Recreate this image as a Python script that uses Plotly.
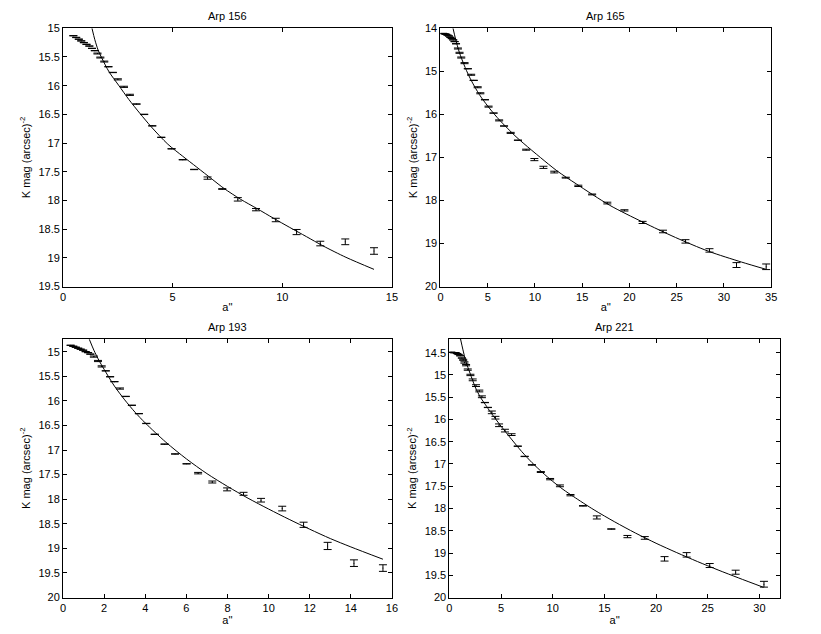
import plotly.graph_objects as go

W, H = 821, 634

titles = ["Arp 156", "Arp 165", "Arp 193", "Arp 221"]

# ---- Arp 156 ----
x1 = [0.47, 0.6, 0.72, 0.83, 0.95, 1.07, 1.2, 1.32, 1.45, 1.57, 1.7, 1.88, 2.07, 2.27,
      2.5, 2.78, 3.05, 3.35, 3.7, 4.07, 4.48, 4.95, 5.46, 5.98, 6.59, 7.26, 7.97, 8.8,
      9.7, 10.65, 11.73, 12.87, 14.18]
y1 = [15.13, 15.16, 15.19, 15.22, 15.25, 15.28, 15.31, 15.35, 15.39, 15.44, 15.51, 15.58,
      15.67, 15.77, 15.89, 16.02, 16.16, 16.32, 16.5, 16.7, 16.9, 17.1, 17.29, 17.46,
      17.61, 17.8, 17.98, 18.16, 18.34, 18.55, 18.75, 18.72, 18.88]
e1 = [0.003] * 9 + [0.008, 0.008, 0.008] + [0.003, 0.003] + [0.01, 0.01, 0.01] + [0.003] * 7 + \
     [0.02, 0.006, 0.03, 0.02, 0.03, 0.045, 0.04, 0.05, 0.057]
fx1 = [1.32, 1.45, 1.6, 1.77, 2.1, 2.53, 3.0, 3.5, 4.03, 4.78, 5.46, 6.1, 6.8, 7.34, 8.1,
       8.84, 9.6, 10.34, 11.1, 11.85, 12.9, 14.18]
fy1 = [15.0, 15.2, 15.38, 15.52, 15.76, 15.99, 16.24, 16.48, 16.72, 17.02, 17.23, 17.42,
       17.63, 17.79, 17.98, 18.14, 18.31, 18.47, 18.63, 18.79, 18.99, 19.2]

# ---- Arp 165 ----
x2 = [0.28, 0.45, 0.6, 0.75, 0.9, 1.05, 1.2, 1.35, 1.5, 1.65, 1.85, 2.02, 2.2, 2.55, 2.9,
      3.25, 3.52, 3.94, 4.22, 4.71, 5.09, 5.62, 6.21, 6.73, 7.43, 8.2, 9.07, 9.94, 10.9,
      12.04, 13.26, 14.59, 16.05, 17.66, 19.47, 21.39, 23.55, 25.93, 28.47, 31.33, 34.47]
y2 = [14.12, 14.13, 14.14, 14.16, 14.18, 14.21, 14.24, 14.27, 14.31, 14.36, 14.47, 14.57,
      14.68, 14.81, 14.94, 15.08, 15.21, 15.37, 15.51, 15.66, 15.82, 15.97, 16.14, 16.27,
      16.43, 16.6, 16.82, 17.05, 17.23, 17.34, 17.47, 17.66, 17.86, 18.06, 18.23, 18.51,
      18.72, 18.95, 19.16, 19.5, 19.54]
e2 = [0.003] * 10 + [0.012, 0.012, 0.012, 0.012, 0.003] + [0.012, 0.003, 0.012, 0.012, 0.003] + \
     [0.012, 0.003, 0.012, 0.003, 0.012] + [0.003, 0.012, 0.025, 0.025, 0.02] + \
     [0.01, 0.015, 0.01, 0.02, 0.015] + [0.025, 0.03, 0.04, 0.04, 0.057, 0.065]
fx2 = [1.33, 1.6, 2.0, 2.5, 3.0, 3.6, 4.3, 5.34, 6.2, 7.08, 8.0, 8.83, 10.57, 12.32, 14.41,
       17.9, 21.39, 24.88, 28.37, 31.86, 34.47]
fy2 = [14.0, 14.25, 14.56, 14.85, 15.1, 15.35, 15.6, 15.9, 16.12, 16.32, 16.52, 16.68, 17.0,
       17.31, 17.62, 18.11, 18.5, 18.86, 19.18, 19.43, 19.6]

# ---- Arp 193 ----
x3 = [0.37, 0.5, 0.62, 0.74, 0.86, 0.98, 1.1, 1.22, 1.33, 1.5, 1.7, 1.88, 2.08, 2.29, 2.5,
      2.77, 3.05, 3.35, 3.69, 4.05, 4.46, 4.94, 5.45, 6.01, 6.57, 7.26, 7.98, 8.78, 9.63,
      10.66, 11.7, 12.87, 14.15, 15.56]
y3 = [14.87, 14.89, 14.91, 14.93, 14.95, 14.97, 15.0, 15.02, 15.05, 15.1, 15.19, 15.3, 15.39,
      15.51, 15.61, 15.75, 15.91, 16.09, 16.26, 16.46, 16.68, 16.88, 17.08, 17.28, 17.47,
      17.65, 17.8, 17.89, 18.02, 18.19, 18.52, 18.95, 19.3, 19.4]
e3 = [0.003] * 9 + [0.012, 0.012, 0.012, 0.003, 0.003] + [0.003, 0.012, 0.003, 0.003, 0.003] + \
     [0.003] * 5 + [0.015, 0.02, 0.03, 0.03, 0.037] + [0.047, 0.053, 0.073, 0.067, 0.067]
fx3 = [1.28, 1.5, 1.75, 2.0, 2.5, 3.0, 3.5, 4.0, 5.0, 6.0, 7.0, 8.0, 9.0, 10.0, 11.0, 12.0,
       13.0, 14.0, 15.56]
fy3 = [14.75, 14.97, 15.18, 15.36, 15.7, 15.98, 16.23, 16.45, 16.84, 17.18, 17.48, 17.74,
       17.98, 18.2, 18.41, 18.61, 18.8, 18.97, 19.22]

# ---- Arp 221 ----
x4 = [0.19, 0.45, 0.6, 0.76, 0.89, 1.05, 1.21, 1.34, 1.46, 1.62, 1.78, 2.04, 2.26, 2.58, 2.9,
      3.15, 3.44, 3.73, 4.11, 4.46, 4.81, 5.38, 6.02, 6.62, 7.29, 7.99, 8.85, 9.75, 10.7,
      11.72, 12.93, 14.27, 15.67, 17.23, 18.91, 20.82, 22.96, 25.19, 27.7, 30.44]
y4 = [14.49, 14.5, 14.5, 14.52, 14.54, 14.57, 14.62, 14.66, 14.72, 14.78, 14.88, 15.0, 15.11,
      15.24, 15.36, 15.49, 15.62, 15.73, 15.84, 15.96, 16.13, 16.25, 16.34, 16.6, 16.83,
      17.02, 17.18, 17.34, 17.49, 17.7, 17.94, 18.2, 18.46, 18.63, 18.66, 19.13, 19.04,
      19.28, 19.43, 19.7]
e4 = [0.003] * 7 + [0.012, 0.015, 0.015] + [0.015, 0.015, 0.02, 0.02, 0.02] + \
     [0.02, 0.003, 0.003, 0.03, 0.03] + [0.03, 0.03, 0.02, 0.004, 0.004] + \
     [0.006, 0.01, 0.015, 0.02, 0.015] + [0.005, 0.035, 0.004, 0.025, 0.03] + \
     [0.05, 0.05, 0.045, 0.045, 0.065]
fx4 = [1.08, 1.3, 1.6, 2.0, 2.5, 3.0, 3.5, 4.0, 5.0, 6.0, 7.0, 8.0, 9.0, 10.0, 11.0, 12.0,
       14.0, 16.0, 18.0, 20.0, 22.0, 24.0, 26.0, 28.0, 30.4]
fy4 = [14.19, 14.42, 14.7, 14.96, 15.27, 15.5, 15.67, 15.84, 16.15, 16.44, 16.72, 16.97,
       17.19, 17.39, 17.57, 17.73, 18.03, 18.3, 18.55, 18.78, 18.99, 19.19, 19.38, 19.56, 19.77]

# axis settings (ranges / ticks)
x_ranges = [[0, 15], [0, 35], [0, 16], [0, 32]]
y_ranges = [[19.5, 15], [20, 14], [20, 14.74], [20, 14.19]]
x_dticks = [5, 5, 2, 5]
y_dticks = [0.5, 1, 0.5, 0.5]
y_tick0 = [15, 14, 15, 14.5]

# panel positions in pixels (left, right, top, bottom)
boxes = [(60.7, 393.3, 22.7, 286.0), (442.3, 776.7, 22.7, 286.0),
         (60.7, 393.3, 339.3, 603.0), (451.3, 785.7, 339.3, 603.0)]

data = [(x1, y1, e1, fx1, fy1), (x2, y2, e2, fx2, fy2),
        (x3, y3, e3, fx3, fy3), (x4, y4, e4, fx4, fy4)]

font = dict(family="Liberation Sans, Arial, Helvetica, sans-serif", size=11, color="black")

fig = go.Figure()
layout = dict(width=W, height=H, margin=dict(l=0, r=0, t=0, b=0),
              paper_bgcolor="white", plot_bgcolor="white", showlegend=False, font=font)
annotations = []

for i, (xs, ys, es, fxs, fys) in enumerate(data):
    k = "" if i == 0 else str(i + 1)
    fig.add_trace(go.Scatter(
        x=xs, y=ys, mode="markers",
        marker=dict(size=1, color="black"),
        error_y=dict(type="data", array=es, visible=True, color="black",
                     thickness=1, width=4),
        xaxis="x" + k, yaxis="y" + k, hoverinfo="skip"))
    fig.add_trace(go.Scatter(
        x=fxs, y=fys, mode="lines",
        line=dict(color="black", width=1, shape="spline", smoothing=0.8),
        xaxis="x" + k, yaxis="y" + k, hoverinfo="skip"))

    l, r, t, b = boxes[i]
    common = dict(showline=True, mirror="ticks", linecolor="black", linewidth=1,
                  ticks="inside", ticklen=4, tickcolor="black", tickwidth=1,
                  showgrid=False, zeroline=False, tickfont=font)
    layout["xaxis" + k] = dict(
        common, domain=[l / W, r / W], range=x_ranges[i], dtick=x_dticks[i], tick0=0,
        anchor="y" + k, title=dict(text="a''", font=font, standoff=1))
    layout["yaxis" + k] = dict(
        common, domain=[1 - b / H, 1 - t / H], range=y_ranges[i], dtick=y_dticks[i],
        tick0=y_tick0[i], anchor="x" + k,
        title=dict(text="K mag (arcsec)<sup>-2</sup>", font=font, standoff=5))
    annotations.append(dict(text=titles[i], x=(l + r) / 2 / W, y=1 - (t - 12) / H,
                            xref="paper", yref="paper", showarrow=False,
                            font=font, xanchor="center", yanchor="middle"))

layout["annotations"] = annotations
fig.update_layout(**layout)
fig.write_html("out.html",
               config={"displayModeBar": False},
               post_script="document.body.style.margin='0px';"
                           "document.body.style.overflow='hidden';")
